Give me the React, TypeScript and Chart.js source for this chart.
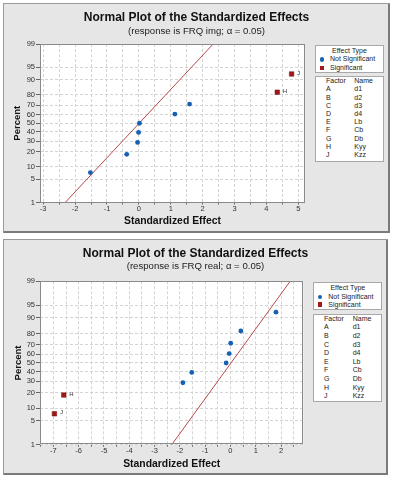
import React, { useEffect, useRef } from "react";
import { Chart, registerables, LinearScale } from "chart.js";

// ---------- data ----------
const PERCENT_TICKS = [1, 5, 10, 20, 30, 40, 50, 60, 70, 80, 90, 95, 99];
const FACTOR_CODES = ["A", "B", "C", "D", "E", "F", "G", "H", "J"];
const FACTOR_NAMES = ["d1", "d2", "d3", "d4", "Lb", "Cb", "Db", "Kyy", "Kzz"];

// Panel 1: response FRQ img
const IMG_X_TICKS = [-3, -2, -1, 0, 1, 2, 3, 4, 5];
const IMG_NS_EFFECTS = [-1.52, -0.38, -0.04, -0.01, 0.02, 1.13, 1.59];
const IMG_NS_PERCENTS = [7.4, 18.1, 28.7, 39.4, 50.0, 60.6, 71.3];
const IMG_S_EFFECTS = [4.34, 4.79];
const IMG_S_PERCENTS = [81.9, 92.6];
const IMG_S_LABELS = ["H", "J"];
const IMG_LINE_EFFECTS = [-2.31, 2.33];
const IMG_LINE_PERCENTS = [1, 99];

// Panel 2: response FRQ real
const REAL_X_TICKS = [-7, -6, -5, -4, -3, -2, -1, 0, 1, 2];
const REAL_NS_EFFECTS = [-1.88, -1.53, -0.17, -0.05, 0.01, 0.41, 1.8];
const REAL_NS_PERCENTS = [28.7, 39.4, 50.0, 60.6, 71.3, 81.9, 92.6];
const REAL_S_EFFECTS = [-6.96, -6.59];
const REAL_S_PERCENTS = [7.4, 18.1];
const REAL_S_LABELS = ["J", "H"];
const REAL_LINE_EFFECTS = [-2.32, 2.36];
const REAL_LINE_PERCENTS = [1, 99];

// ---------- helpers ----------
const FONT = "'Liberation Sans', Arial, sans-serif";
const BLUE = "#1460b4";
const RED = "#a01818";

function probit(p: number): number {
  const a = [-39.69683028665376, 220.9460984245205, -275.9285104469687, 138.357751867269, -30.66479806614716, 2.506628277459239];
  const b = [-54.47609879822406, 161.5858368580409, -155.6989798598866, 66.80131188771972, -13.28068155288572];
  const c = [-0.007784894002430293, -0.3223964580411365, -2.400758277161838, -2.549732539343734, 4.374664141464968, 2.938163982698783];
  const d = [0.007784695709041462, 0.3224671290700398, 2.445134137142996, 3.754408661907416];
  const pl = 0.02425;
  if (p < pl) {
    const q = Math.sqrt(-2 * Math.log(p));
    return (((((c[0] * q + c[1]) * q + c[2]) * q + c[3]) * q + c[4]) * q + c[5]) / ((((d[0] * q + d[1]) * q + d[2]) * q + d[3]) * q + 1);
  }
  if (p > 1 - pl) {
    const q = Math.sqrt(-2 * Math.log(1 - p));
    return -(((((c[0] * q + c[1]) * q + c[2]) * q + c[3]) * q + c[4]) * q + c[5]) / ((((d[0] * q + d[1]) * q + d[2]) * q + d[3]) * q + 1);
  }
  const q = p - 0.5;
  const r = q * q;
  return ((((((a[0] * r + a[1]) * r + a[2]) * r + a[3]) * r + a[4]) * r + a[5]) * q) / (((((b[0] * r + b[1]) * r + b[2]) * r + b[3]) * r + b[4]) * r + 1);
}
function normCdf(z: number): number {
  const t = 1 / (1 + 0.2316419 * Math.abs(z));
  const dd = 0.3989423 * Math.exp((-z * z) / 2);
  const pr = dd * t * (0.3193815 + t * (-0.3565638 + t * (1.781478 + t * (-1.821256 + t * 1.330274))));
  return z > 0 ? 1 - pr : pr;
}

class ProbitScale extends (LinearScale as any) {
  static id = "probit";
  static defaults = {};
  buildTicks() {
    return PERCENT_TICKS.map((v) => ({ value: v }));
  }
  getPixelForValue(value: number) {
    if (value === null || value === undefined || isNaN(value)) return NaN;
    const z0 = probit(this.min / 100);
    const z1 = probit(this.max / 100);
    const z = probit(value / 100);
    return this.getPixelForDecimal((z - z0) / (z1 - z0));
  }
  getValueForPixel(pixel: number) {
    const z0 = probit(this.min / 100);
    const z1 = probit(this.max / 100);
    const dec = this.getDecimalForPixel(pixel);
    return normCdf(z0 + dec * (z1 - z0)) * 100;
  }
}

Chart.register(...registerables);
Chart.register(ProbitScale as any);

const areaPlugin = {
  id: "plotArea",
  beforeDraw(chart: any) {
    const { ctx, chartArea: a } = chart;
    ctx.save();
    ctx.fillStyle = "#ffffff";
    ctx.fillRect(a.left, a.top, a.right - a.left, a.bottom - a.top);
    ctx.restore();
  },
  afterDraw(chart: any) {
    const { ctx, chartArea: a } = chart;
    ctx.save();
    ctx.strokeStyle = "#8a8a8a";
    ctx.lineWidth = 1;
    ctx.strokeRect(Math.round(a.left) + 0.5, Math.round(a.top) + 0.5, Math.round(a.right - a.left) - 1, Math.round(a.bottom - a.top) - 1);
    ctx.restore();
  },
};

const pointLabelPlugin = {
  id: "pointLabels",
  afterDatasetsDraw(chart: any) {
    const { ctx } = chart;
    chart.data.datasets.forEach((ds: any, i: number) => {
      if (!ds.pointLabels) return;
      const meta = chart.getDatasetMeta(i);
      ctx.save();
      ctx.font = `6px ${FONT}`;
      ctx.fillStyle = "#333";
      ctx.textBaseline = "middle";
      ctx.textAlign = "left";
      meta.data.forEach((el: any, j: number) => {
        ctx.fillText(ds.pointLabels[j], el.x + 5.5, el.y - 1);
      });
      ctx.restore();
    });
  },
};

function halfTicks(ints: number[], min: number, max: number): number[] {
  const set: number[] = [];
  ints.forEach((v) => {
    [v - 0.5, v, v + 0.5].forEach((t) => {
      if (t >= min && t <= max && set.indexOf(t) < 0) set.push(t);
    });
  });
  return set.sort((p, q) => p - q);
}

type PanelCfg = {
  left: number; top: number; width: number; height: number;
  padTop: number; padRight: number; yAxisW: number; xAxisH: number;
  xTitlePadBottom: number; yTitlePadTop: number;
  titleY: number; subY: number; subtitle: string;
  xMin: number; xMax: number; xTicks: number[];
  nsEffects: number[]; nsPercents: number[];
  sEffects: number[]; sPercents: number[]; sLabels: string[];
  lineEffects: number[]; linePercents: number[];
  l1: { left: number; top: number; w: number; h: number; headY: number; nsY: number; sY: number; markX: number; textX: number };
  l2: { left: number; top: number; w: number; h: number; headY: number; rowY0: number; step: number; codeX: number; nameX: number };
};

function Panel({ cfg }: { cfg: PanelCfg }) {
  const ref = useRef<HTMLCanvasElement | null>(null);
  useEffect(() => {
    if (!ref.current) return;
    const chart = new Chart(ref.current, {
      type: "scatter",
      data: {
        datasets: [
          {
            label: "Significant",
            data: cfg.sEffects.map((x, i) => ({ x, y: cfg.sPercents[i] })),
            pointStyle: "rect",
            pointRadius: 3.2,
            backgroundColor: RED,
            borderColor: "#7a1010",
            borderWidth: 0.5,
            pointLabels: cfg.sLabels,
          } as any,
          {
            label: "Not Significant",
            data: cfg.nsEffects.map((x, i) => ({ x, y: cfg.nsPercents[i] })),
            pointStyle: "circle",
            pointRadius: 2.4,
            backgroundColor: BLUE,
            borderColor: BLUE,
            borderWidth: 0,
          },
          {
            label: "fit",
            data: cfg.lineEffects.map((x, i) => ({ x, y: cfg.linePercents[i] })),
            showLine: true,
            pointRadius: 0,
            borderColor: "#b84848",
            borderWidth: 1,
            backgroundColor: "#b84848",
          },
        ],
      },
      options: {
        animation: false,
        responsive: false,
        devicePixelRatio: 1,
        events: [],
        layout: { padding: { left: 0, top: cfg.padTop, right: cfg.padRight, bottom: 0 } },
        plugins: { legend: { display: false }, tooltip: { enabled: false }, title: { display: false } },
        scales: {
          x: {
            type: "linear",
            min: cfg.xMin,
            max: cfg.xMax,
            afterBuildTicks: (s: any) => {
              s.ticks = halfTicks(cfg.xTicks, cfg.xMin, cfg.xMax).map((v) => ({ value: v }));
            },
            afterFit: (s: any) => {
              s.height = cfg.xAxisH;
            },
            grid: { color: "#d4d4d4", lineWidth: 1, tickLength: 2, tickColor: "#666", tickBorderDash: [] },
            border: { display: false, dash: [3, 2] },
            ticks: {
              autoSkip: false,
              maxRotation: 0,
              padding: 0,
              color: "#333",
              font: { family: FONT, size: 7.5 },
              callback: (v: any) => (Number.isInteger(Number(v)) ? String(v) : ""),
            },
            title: {
              display: true,
              text: "Standardized Effect",
              color: "#111",
              font: { family: FONT, size: 10.4, weight: "bold" },
              padding: { top: 0, bottom: cfg.xTitlePadBottom },
            },
          },
          y: {
            type: "probit" as any,
            min: 1,
            max: 99,
            afterFit: (s: any) => {
              s.width = cfg.yAxisW;
            },
            grid: { color: "#d4d4d4", lineWidth: 1, tickLength: 4, tickColor: "#666", tickBorderDash: [] },
            border: { display: false, dash: [3, 2] },
            ticks: {
              autoSkip: false,
              padding: 1,
              color: "#333",
              font: { family: FONT, size: 7.5 },
              callback: (v: any) => String(v),
            },
            title: {
              display: true,
              text: "Percent",
              color: "#111",
              font: { family: FONT, size: 9.5, weight: "bold" },
              padding: { top: cfg.yTitlePadTop, bottom: 0 },
            },
          } as any,
        },
      },
      plugins: [areaPlugin, pointLabelPlugin],
    } as any);
    return () => chart.destroy();
  }, [cfg]);

  const txt = (extra: any): any => ({ position: "absolute", fontFamily: FONT, whiteSpace: "nowrap", ...extra });
  const lh = 8;

  return (
    <div
      style={{
        position: "absolute",
        left: cfg.left,
        top: cfg.top,
        width: cfg.width,
        height: cfg.height,
        background: "#e6e6e6",
        boxShadow: "inset 1px 1px 0 #9a9a9a, inset -2px -2px 0 #7a7a7a",
      }}
    >
      <canvas
        ref={ref}
        width={cfg.width}
        height={cfg.height}
        style={{ position: "absolute", left: 0, top: 0, width: cfg.width, height: cfg.height }}
      />
      <div style={txt({ left: 0, width: cfg.width, top: cfg.titleY - 7, lineHeight: "14px", textAlign: "center", fontWeight: "bold", fontSize: 12, color: "#111" })}>
        Normal Plot of the Standardized Effects
      </div>
      <div style={txt({ left: 0, width: cfg.width, top: cfg.subY - 6, lineHeight: "12px", textAlign: "center", fontSize: 9.6, color: "#222" })}>
        {cfg.subtitle}
      </div>
      <div
        style={{
          position: "absolute",
          left: cfg.l1.left,
          top: cfg.l1.top,
          width: cfg.l1.w,
          height: cfg.l1.h,
          background: "#fff",
          boxShadow: "inset 0 0 0 1px #a8a8a8",
          fontSize: 7,
          color: "#222",
        }}
      >
        <div style={txt({ left: 0, width: cfg.l1.w, top: cfg.l1.headY - lh / 2, lineHeight: lh + "px", textAlign: "center" })}>Effect Type</div>
        <div style={{ position: "absolute", left: cfg.l1.markX - 2.3, top: cfg.l1.nsY - 2.3, width: 4.6, height: 4.6, borderRadius: "50%", background: BLUE }} />
        <div style={txt({ left: cfg.l1.textX, top: cfg.l1.nsY - lh / 2, lineHeight: lh + "px" })}>Not Significant</div>
        <div style={{ position: "absolute", left: cfg.l1.markX - 2.3, top: cfg.l1.sY - 2.3, width: 4.6, height: 4.6, background: RED }} />
        <div style={txt({ left: cfg.l1.textX, top: cfg.l1.sY - lh / 2, lineHeight: lh + "px" })}>Significant</div>
      </div>
      <div
        style={{
          position: "absolute",
          left: cfg.l2.left,
          top: cfg.l2.top,
          width: cfg.l2.w,
          height: cfg.l2.h,
          background: "#fff",
          boxShadow: "inset 0 0 0 1px #a8a8a8",
          fontSize: 7,
          color: "#222",
        }}
      >
        <div style={txt({ left: cfg.l2.codeX, top: cfg.l2.headY - lh / 2, lineHeight: lh + "px" })}>Factor</div>
        <div style={txt({ left: cfg.l2.nameX, top: cfg.l2.headY - lh / 2, lineHeight: lh + "px" })}>Name</div>
        {FACTOR_CODES.map((c, i) => (
          <React.Fragment key={c}>
            <div style={txt({ left: cfg.l2.codeX, top: cfg.l2.rowY0 + i * cfg.l2.step - lh / 2, lineHeight: lh + "px" })}>{c}</div>
            <div style={txt({ left: cfg.l2.nameX, top: cfg.l2.rowY0 + i * cfg.l2.step - lh / 2, lineHeight: lh + "px" })}>{FACTOR_NAMES[i]}</div>
          </React.Fragment>
        ))}
      </div>
    </div>
  );
}

const TOP_CFG: PanelCfg = {
  left: 3, top: 3, width: 387, height: 230,
  padTop: 41, padRight: 85, yAxisW: 37, xAxisH: 30.5,
  xTitlePadBottom: 6.1, yTitlePadTop: 8.6,
  titleY: 14, subY: 28, subtitle: "(response is FRQ img; α = 0.05)",
  xMin: -3.1, xMax: 5.21, xTicks: IMG_X_TICKS,
  nsEffects: IMG_NS_EFFECTS, nsPercents: IMG_NS_PERCENTS,
  sEffects: IMG_S_EFFECTS, sPercents: IMG_S_PERCENTS, sLabels: IMG_S_LABELS,
  lineEffects: IMG_LINE_EFFECTS, linePercents: IMG_LINE_PERCENTS,
  l1: { left: 312, top: 42, w: 69, h: 28, headY: 5.7, nsY: 14.3, sY: 23, markX: 7, textX: 15 },
  l2: { left: 312, top: 73, w: 69, h: 86, headY: 5, rowY0: 13.3, step: 8.22, codeX: 11, nameX: 39.3 },
};

const BOTTOM_CFG: PanelCfg = {
  left: 3, top: 239, width: 385, height: 236,
  padTop: 42.3, padRight: 84.7, yAxisW: 37, xAxisH: 30.3,
  xTitlePadBottom: 4.8, yTitlePadTop: 9.6,
  titleY: 14, subY: 27.3, subtitle: "(response is FRQ real; α = 0.05)",
  xMin: -7.53, xMax: 2.88, xTicks: REAL_X_TICKS,
  nsEffects: REAL_NS_EFFECTS, nsPercents: REAL_NS_PERCENTS,
  sEffects: REAL_S_EFFECTS, sPercents: REAL_S_PERCENTS, sLabels: REAL_S_LABELS,
  lineEffects: REAL_LINE_EFFECTS, linePercents: REAL_LINE_PERCENTS,
  l1: { left: 310.3, top: 43.3, w: 69, h: 28, headY: 5.7, nsY: 14.7, sY: 22.4, markX: 6.7, textX: 15 },
  l2: { left: 310.3, top: 74.7, w: 69, h: 88.6, headY: 5.3, rowY0: 13.6, step: 8.63, codeX: 10.7, nameX: 39.4 },
};

export default function App() {
  return (
    <div style={{ position: "absolute", left: 0, top: 0, width: 394, height: 480, background: "#ffffff", overflow: "hidden" }}>
      <Panel cfg={TOP_CFG} />
      <Panel cfg={BOTTOM_CFG} />
    </div>
  );
}
